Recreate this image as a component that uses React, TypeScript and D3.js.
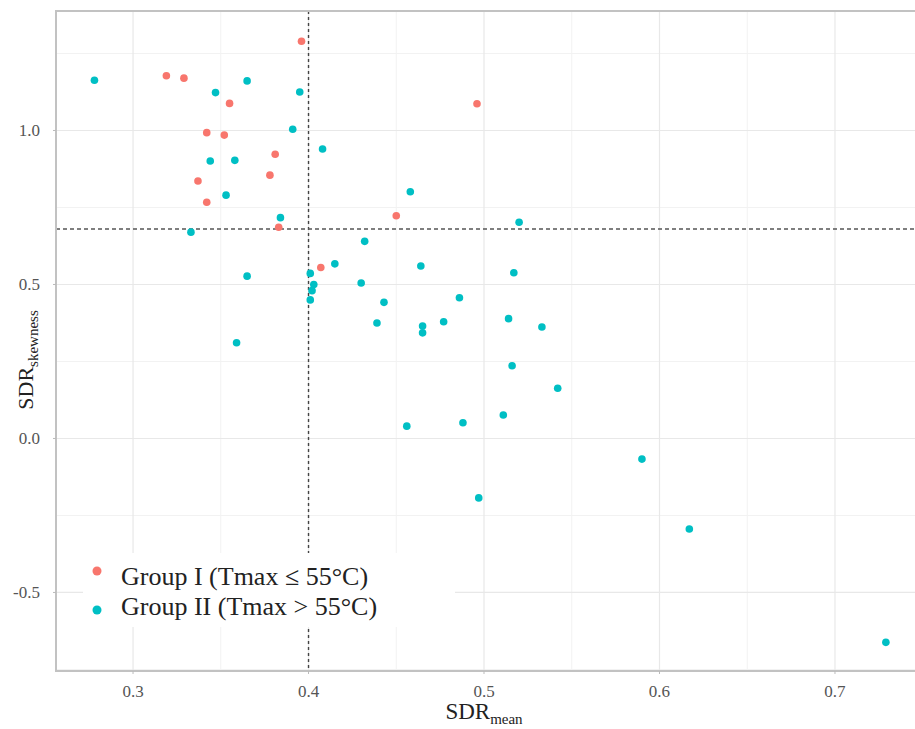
import React, {useEffect, useRef} from 'react';
import {select, scaleLinear} from 'd3';

// SDR_mean / SDR_skewness for the two groups
const groupOneMean = [0.396, 0.319, 0.329, 0.355, 0.342, 0.352, 0.381, 0.337, 0.378, 0.342, 0.383, 0.407, 0.45, 0.496];
const groupOneSkew = [1.29, 1.178, 1.17, 1.088, 0.993, 0.985, 0.923, 0.836, 0.855, 0.767, 0.686, 0.555, 0.723, 1.087];

const groupTwoMean = [
  0.278, 0.365, 0.347, 0.395, 0.391, 0.408, 0.344, 0.358, 0.353, 0.384, 0.333, 0.365, 0.432, 0.415,
  0.401, 0.403, 0.402, 0.401, 0.43, 0.443, 0.439, 0.464, 0.477, 0.465, 0.465, 0.486, 0.458, 0.359,
  0.52, 0.517, 0.514, 0.533, 0.516, 0.542, 0.488, 0.511, 0.59, 0.497, 0.617, 0.729, 0.456
];
const groupTwoSkew = [
  1.163, 1.161, 1.123, 1.125, 1.004, 0.94, 0.901, 0.903, 0.79, 0.717, 0.67, 0.527, 0.64, 0.567,
  0.536, 0.5, 0.48, 0.45, 0.505, 0.442, 0.375, 0.56, 0.379, 0.365, 0.343, 0.457, 0.801, 0.311,
  0.702, 0.538, 0.389, 0.362, 0.236, 0.163, 0.051, 0.076, -0.067, -0.193, -0.294, -0.662, 0.04
];

const xTicks = [0.3, 0.4, 0.5, 0.6, 0.7];
const yTicks = [-0.5, 0.0, 0.5, 1.0];
const xMinor = [0.35, 0.45, 0.55, 0.65];
const yMinor = [-0.75, -0.25, 0.25, 0.75, 1.25];

const meanCut = 0.4;
const skewCut = 0.68;

const groups = [
  {label: 'Group I (Tmax ≤ 55°C)', color: '#F8766D', xs: groupOneMean, ys: groupOneSkew},
  {label: 'Group II (Tmax > 55°C)', color: '#00BFC4', xs: groupTwoMean, ys: groupTwoSkew}
];

const W = 915;
const H = 729;
const serif = '"Liberation Serif", "Times New Roman", serif';

export default function App() {
  const ref = useRef<SVGSVGElement>(null);

  useEffect(() => {
    const svg = select(ref.current);
    svg.selectAll('*').remove();

    const left = 56, right = 915, top = 11, bottom = 671;
    const x = scaleLinear().domain([0.2561, 0.7456]).range([left, right]);
    const y = scaleLinear().domain([-0.755, 1.388]).range([bottom, top]);

    const grid = svg.append('g');
    grid.selectAll('.xmin').data(xMinor).enter().append('line')
      .attr('x1', d => x(d)).attr('x2', d => x(d)).attr('y1', top).attr('y2', bottom)
      .attr('stroke', '#F2F2F2').attr('stroke-width', 1);
    grid.selectAll('.ymin').data(yMinor).enter().append('line')
      .attr('x1', left).attr('x2', right).attr('y1', d => y(d)).attr('y2', d => y(d))
      .attr('stroke', '#F2F2F2').attr('stroke-width', 1);
    grid.selectAll('.xmaj').data(xTicks).enter().append('line')
      .attr('x1', d => x(d)).attr('x2', d => x(d)).attr('y1', top).attr('y2', bottom)
      .attr('stroke', '#E8E8E8').attr('stroke-width', 1.2);
    grid.selectAll('.ymaj').data(yTicks).enter().append('line')
      .attr('x1', left).attr('x2', right).attr('y1', d => y(d)).attr('y2', d => y(d))
      .attr('stroke', '#E8E8E8').attr('stroke-width', 1.2);

    // reference lines
    svg.append('line')
      .attr('x1', x(meanCut)).attr('x2', x(meanCut)).attr('y1', top).attr('y2', bottom)
      .attr('stroke', '#444').attr('stroke-width', 1.4).attr('stroke-dasharray', '3,3');
    svg.append('line')
      .attr('x1', left).attr('x2', right).attr('y1', y(skewCut)).attr('y2', y(skewCut))
      .attr('stroke', '#555').attr('stroke-width', 1.4).attr('stroke-dasharray', '4,3');

    groups.forEach(g => {
      svg.append('g').selectAll('circle')
        .data(g.xs.map((v, i) => [v, g.ys[i]]))
        .enter()
        .append('circle')
        .attr('cx', d => x(d[0]))
        .attr('cy', d => y(d[1]))
        .attr('r', 3.8)
        .attr('fill', g.color);
    });

    // legend
    svg.append('rect')
      .attr('x', 83).attr('y', 553).attr('width', 372).attr('height', 74)
      .attr('fill', 'white');
    const leg = svg.append('g');
    leg.selectAll('circle').data(groups).enter().append('circle')
      .attr('cx', 97).attr('cy', (d, i) => 571 + i * 39).attr('r', 4.5)
      .attr('fill', d => d.color);
    leg.selectAll('text').data(groups).enter().append('text')
      .attr('x', 121).attr('y', (d, i) => 585 + i * 30)
      .attr('font-family', serif).attr('font-size', 26).attr('fill', '#222')
      .text(d => d.label);

    // panel border
    svg.append('path')
      .attr('d', `M${right},${top}H${left}V${bottom}H${right}`)
      .attr('fill', 'none').attr('stroke', '#C2C2C2').attr('stroke-width', 2);

    // ticks + labels
    svg.append('g').selectAll('line').data(xTicks).enter().append('line')
      .attr('x1', d => x(d)).attr('x2', d => x(d)).attr('y1', bottom).attr('y2', bottom + 3)
      .attr('stroke', '#BBB');
    svg.append('g').selectAll('text').data(xTicks).enter().append('text')
      .attr('x', d => x(d)).attr('y', 697).attr('text-anchor', 'middle')
      .attr('font-family', serif).attr('font-size', 17).attr('fill', '#555')
      .text(d => d.toFixed(1));
    svg.append('g').selectAll('line').data(yTicks).enter().append('line')
      .attr('x1', left - 3).attr('x2', left).attr('y1', d => y(d)).attr('y2', d => y(d))
      .attr('stroke', '#BBB');
    svg.append('g').selectAll('text').data(yTicks).enter().append('text')
      .attr('x', 40).attr('y', d => y(d) + 6).attr('text-anchor', 'end')
      .attr('font-family', serif).attr('font-size', 17).attr('fill', '#555')
      .text(d => d.toFixed(1));

    // axis titles
    const xt = svg.append('text')
      .attr('x', 484).attr('y', 719).attr('text-anchor', 'middle')
      .attr('font-family', serif).attr('font-size', 23).attr('fill', '#222');
    xt.append('tspan').text('SDR');
    xt.append('tspan').attr('font-size', 15).attr('dy', 5).text('mean');

    const yt = svg.append('text')
      .attr('transform', 'translate(33,360) rotate(-90)')
      .attr('text-anchor', 'middle')
      .attr('font-family', serif).attr('font-size', 22).attr('fill', '#222');
    yt.append('tspan').text('SDR');
    yt.append('tspan').attr('font-size', 15).attr('dy', 5).text('skewness');
  }, []);

  return (
    <div style={{position: 'absolute', left: 0, top: 0}}>
      <svg ref={ref} width={W} height={H} style={{display: 'block', background: 'white'}} />
    </div>
  );
}
